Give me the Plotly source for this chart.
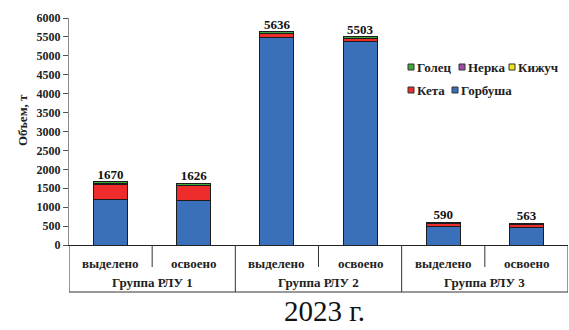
import plotly.graph_objects as go

# Catch volumes by salmon species, tonnes
groups = ["Группа РЛУ 1", "Группа РЛУ 2", "Группа РЛУ 3"]
subcats = ["выделено", "освоено"]
categories = [s for g in groups for s in subcats]

gorbusha = [1210, 1175, 5490, 5385, 500, 470]
keta = [400, 395, 90, 70, 80, 85]
kizhuch = [2, 2, 3, 3, 1, 1]
nerka = [2, 2, 3, 3, 1, 1]
golets = [56, 52, 50, 42, 8, 6]

series = [
    ("Горбуша", gorbusha, "#3A6FBA"),
    ("Кета", keta, "#EE2C2C"),
    ("Кижуч", kizhuch, "#F2E41C"),
    ("Нерка", nerka, "#9B4FA5"),
    ("Голец", golets, "#3DA63D"),
]
totals = [sum(v) for v in zip(gorbusha, keta, kizhuch, nerka, golets)]

year_label = "2023 г."
y_title = "Объем, т"

FONT = "Liberation Serif, Times New Roman, serif"
W, H = 569, 330
ML, MR, MT, MB = 69, 1, 18, 85
PW, PH = W - ML - MR, H - MT - MB


def py(pix):
    """Pixel row in the figure -> paper y."""
    return (H - MB - pix) / PH


def px(pix):
    """Pixel column in the figure -> paper x."""
    return (pix - ML) / PW


xpos = list(range(len(categories)))

fig = go.Figure()
for name, vals, color in series:
    fig.add_trace(go.Bar(
        x=xpos, y=vals, name=name, width=0.41,
        marker=dict(color=color, line=dict(color="#1c1c1c", width=1)),
        showlegend=False,
    ))

fig.add_trace(go.Scatter(
    x=xpos, y=totals, mode="text", text=[str(t) for t in totals],
    textposition="top center",
    textfont=dict(family=FONT, size=13, color="#111", weight="bold"),
    showlegend=False, hoverinfo="skip",
))

shapes = []
annotations = []

# category table under the x axis
bottom = py(292)
mid = py(267)
lc = dict(color="#333", width=1)
shapes.append(dict(type="line", xref="x", yref="paper", x0=-0.5, x1=len(categories) - 0.5,
                   y0=bottom, y1=bottom, line=lc))
for i in range(len(categories) + 1):
    xb = i - 0.5
    low = bottom if i % 2 == 0 else mid
    shapes.append(dict(type="line", xref="x", yref="paper", x0=xb, x1=xb,
                       y0=0, y1=low, line=lc))

for i, c in enumerate(categories):
    annotations.append(dict(x=i, y=py(263), xref="x", yref="paper", text=c,
                            showarrow=False, yanchor="middle",
                            font=dict(family=FONT, size=13, color="#222", weight="bold")))
for gi, g in enumerate(groups):
    annotations.append(dict(x=gi * 2 + 0.5, y=py(282), xref="x", yref="paper", text=g,
                            showarrow=False, yanchor="middle",
                            font=dict(family=FONT, size=13, color="#222", weight="bold")))

annotations.append(dict(x=px(324), y=py(311), xref="paper", yref="paper", text=year_label,
                        showarrow=False, xanchor="center", yanchor="middle", borderpad=0,
                        font=dict(family=FONT, size=29, color="#111")))

annotations.append(dict(x=px(22), y=py(120), xref="paper", yref="paper", text=y_title,
                        textangle=-90, showarrow=False, xanchor="center", yanchor="middle",
                        font=dict(family=FONT, size=13, color="#222", weight="bold")))

# legend drawn as swatches + labels
colors = {n: c for n, _, c in series}
legend_rows = [
    (67, [("Голец", 408), ("Нерка", 459), ("Кижуч", 509)]),
    (90, [("Кета", 408), ("Горбуша", 452)]),
]
for row_y, items in legend_rows:
    for name, x0 in items:
        shapes.append(dict(type="rect", xref="paper", yref="paper",
                           x0=px(x0), x1=px(x0 + 6), y0=py(row_y + 3), y1=py(row_y - 3),
                           fillcolor=colors[name], line=dict(color="#333", width=1)))
        annotations.append(dict(x=px(x0 + 7), y=py(row_y), xref="paper", yref="paper",
                                text=name, showarrow=False, xanchor="left", yanchor="middle",
                                font=dict(family=FONT, size=13, color="#222", weight="bold")))

fig.update_layout(
    width=W, height=H,
    margin=dict(l=ML, r=MR, t=MT, b=MB, autoexpand=False),
    barmode="stack",
    plot_bgcolor="white", paper_bgcolor="white",
    shapes=shapes, annotations=annotations,
    showlegend=False,
)
fig.update_xaxes(range=[-0.5, len(categories) - 0.5], showticklabels=False, ticks="",
                 showgrid=False, zeroline=False, showline=True, linecolor="#222", linewidth=1)
fig.update_yaxes(range=[0, 6000], dtick=500, ticks="outside", ticklen=5, tickcolor="#555",
                 showgrid=False, zeroline=False, showline=True, linecolor="#8a8a8a", linewidth=1,
                 tickfont=dict(family=FONT, size=12, color="#222", weight="bold"))

fig.write_html("out.html")
